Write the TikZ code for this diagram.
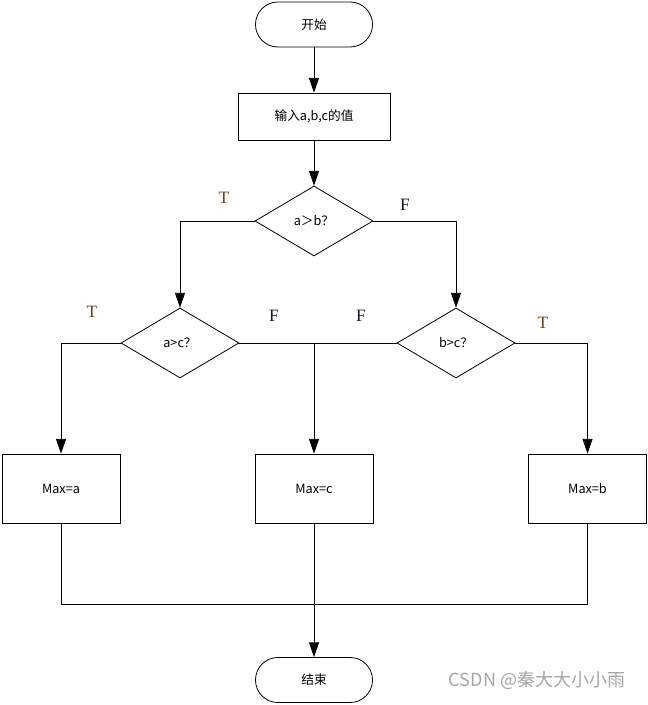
\documentclass[tikz,border=0pt]{standalone}
\usepackage{fontspec}
\usepackage{tikz}
\usetikzlibrary{arrows.meta}
\usetikzlibrary{shapes.geometric}
\setmainfont{Liberation Serif}
\newfontfamily\cjk{Noto Sans CJK SC}
\definecolor{tcol}{RGB}{110,65,15}
\definecolor{fcol}{RGB}{20,20,50}
\definecolor{wmark}{RGB}{165,165,165}

\begin{document}
\begin{tikzpicture}[x=0.75pt,y=-0.75pt,line width=0.6pt]
\tikzstyle{every node}=[font=\cjk\fontsize{9.5}{11}\selectfont]
\tikzstyle{term}=[draw,rectangle,rounded corners=16.8pt,minimum width=87.75pt,minimum height=33.75pt,inner sep=0pt]
\tikzstyle{box}=[draw,rectangle,minimum width=88.5pt,minimum height=51.75pt,inner sep=0pt]
\tikzstyle{cond}=[draw,diamond,minimum width=88.5pt,minimum height=52.5pt,inner sep=0pt]
\tikzstyle{lbl}=[font=\fontsize{13}{15}\selectfont]
\tikzstyle{arr}=[-{Triangle[length=11pt,width=7.5pt]}]
\useasboundingbox (0,0) rectangle (648,705);
\node[term] (s) at (314,24.5) {开始};
\node[draw,rectangle,minimum width=114pt,minimum height=35.25pt] (in) at (314,116.5) {输入a,b,c的值};
\node[cond] (d1) at (314,221) {a＞b？};
\node[cond] (d2) at (180,343) {a>c？};
\node[cond] (d3) at (456,343) {b>c？};
\node[box] (ma) at (61,488.5) {Max=a};
\node[box] (mc) at (314,488.5) {Max=c};
\node[box] (mb) at (587.5,488.5) {Max=b};
\node[term] (e) at (314,680) {结束};
\coordinate (m) at (314,604);
% labels
\node[lbl,text=tcol] (t1) at (224,198) {T};
\node[lbl,text=fcol] (f1) at (405,205) {F};
\node[lbl,text=tcol] (t2) at (92,312) {T};
\node[lbl,text=fcol] (f2) at (274,316) {F};
\node[lbl,text=fcol] (f3) at (361,316) {F};
\node[lbl,text=tcol] (t3) at (543,323) {T};
\node[font=\cjk\fontsize{13.5}{15}\selectfont,text=wmark] (wm) at (537,680) {CSDN @秦大大小小雨};
% connectors
\draw[arr] (s) -- (in);
\draw[arr] (in) -- (d1);
\draw[arr] (d1.west) -| (d2.north);
\draw[arr] (d1.east) -| (d3.north);
\draw[arr] (d2.west) -| (ma.north);
\draw[arr] (d2.east) -| (mc.north);
\draw (d3.west) -- (d3.west -| mc.north);
\draw[arr] (d3.east) -| (mb.north);
\draw (ma.south) |- (m);
\draw (mb.south) |- (m);
\draw[arr] (mc.south) -- (e.north);
\end{tikzpicture}
\end{document}
